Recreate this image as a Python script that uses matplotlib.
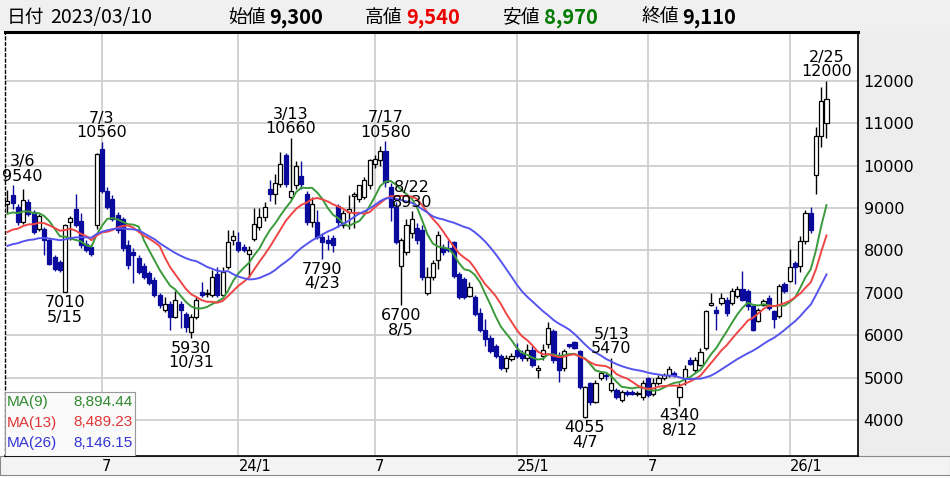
import numpy as np
import pandas as pd
import matplotlib.pyplot as plt
from matplotlib.patches import Rectangle

# weekly candles, the first one is the week ending 2023/03/03
opens = [9090, 9300, 9020, 8670, 9140, 8900, 8510, 8510, 8240, 7840,
         7730, 7020, 8680, 8980, 8700, 8160, 8080, 8590, 10390, 9410,
         9220, 8830, 8750, 8125, 7960, 7810, 7620, 7460, 7300, 6940,
         6590, 6745, 6430, 6745, 6510, 6080, 6430, 7020, 6960, 6940,
         7450, 6940, 7610, 8240, 8200, 8080, 7920, 8270, 8550, 8780,
         9450, 9330, 9570, 10240, 9260, 9530, 9760, 9340, 8670, 8670,
         8320, 8250, 8280, 9040, 8600, 8900, 9290, 9220, 9260, 9530,
         10040, 10120, 10350, 9490, 9020, 7620, 7970, 8400, 8520, 8480,
         6990, 7380, 7770, 8090, 8050, 8200, 7440, 7330, 6930, 6890,
         6530, 6130, 5940, 5740, 5500, 5220, 5440, 5660, 5580, 5460,
         5660, 5180, 5500, 5780, 6100, 5500, 5220, 5780, 5830, 5620,
         4070, 4860, 4430, 5000, 5060, 4700, 4700, 4480, 4660, 4650,
         4620, 4540, 4980, 4620, 4860, 4980, 5060, 5100, 4540, 4980,
         5410, 5170, 5300, 5690, 6720, 6600, 6760, 6840, 6760, 6920,
         7080, 7040, 6680, 6330, 6720, 6880, 6560, 6440, 7200, 7280,
         7710, 7640, 8230, 8870, 9770, 10700, 11000]
highs = [9420, 9540, 9100, 9450, 9200, 8950, 8850, 8560, 8280, 7900,
         7780, 8620, 8820, 9330, 8880, 8250, 8150, 10300, 10560, 9500,
         9300, 8900, 8780, 8250, 8050, 7880, 7700, 7520, 7370, 7000,
         6900, 6800, 7050, 6800, 6550, 6500, 6900, 7250, 7100, 7530,
         7600, 7600, 8470, 8470, 8440, 8150, 8100, 9000, 9000, 9140,
         9650, 9800, 10310, 10300, 10660, 10100, 10100, 9400, 9260, 8950,
         8400, 8370, 8360, 9100, 8950, 9300, 9380, 9550, 9720, 10150,
         10250, 10450, 10580, 9600, 9150, 8300, 8750, 8930, 8650, 8600,
         7600, 7780, 8450, 8150, 8250, 8230, 7500, 7380, 7250, 6950,
         6650, 6370, 6000, 5800, 5550, 5530, 5580, 5820, 5650, 5780,
         5750, 5300, 5780, 6300, 6150, 5600, 5680, 5800, 5860, 5650,
         4800, 4900, 4950, 5150, 5100, 5470, 4750, 4700, 4700, 4700,
         4680, 4950, 5020, 4980, 5050, 5100, 5280, 5150, 4860, 5300,
         5480, 5480, 5690, 6600, 7000, 6680, 7000, 6900, 7120, 7150,
         7520, 7080, 6700, 6650, 6850, 6950, 6600, 7200, 7250, 8030,
         7750, 8350, 8950, 9030, 10900, 11850, 12000]
lows = [8870, 8970, 8600, 8620, 8800, 8380, 8450, 7900, 7650, 7520,
        7480, 7010, 8240, 8550, 8050, 7950, 7870, 8500, 9350, 8980,
        8700, 8400, 7990, 7550, 7230, 7450, 7330, 7180, 6900, 6650,
        6550, 6120, 6400, 6170, 6080, 5930, 6380, 6900, 6900, 6900,
        6900, 6900, 7550, 8120, 7950, 7970, 7370, 8230, 8470, 8700,
        9160, 9090, 9500, 9500, 9200, 9450, 9450, 8600, 8550, 8270,
        7790, 8000, 7950, 8550, 8520, 8500, 8520, 9150, 9200, 9450,
        9950, 10000, 9500, 8700, 8150, 6700, 7900, 8300, 8150, 7300,
        6950, 7300, 7550, 7900, 7950, 7350, 6850, 6850, 6890, 6450,
        6080, 5750, 5580, 5450, 5180, 5140, 5380, 5450, 5380, 5380,
        5250, 4980, 5420, 5700, 5350, 4900, 5150, 5700, 5680, 4720,
        4055, 4350, 4400, 4950, 4950, 4650, 4500, 4430, 4560, 4580,
        4560, 4480, 4540, 4560, 4820, 4950, 5020, 5020, 4340, 4830,
        5300, 5130, 5270, 5650, 6680, 6130, 6700, 6450, 6700, 6880,
        6800, 6600, 6100, 6300, 6680, 6600, 6170, 6400, 7000, 7250,
        7200, 7500, 8150, 8400, 9340, 10430, 10640]
closes = [9170, 9110, 8670, 9180, 8860, 8430, 8820, 8240, 7690, 7570,
          7530, 8590, 8760, 8590, 8120, 8000, 7920, 10270, 9410, 9020,
          8750, 8480, 8050, 7660, 7900, 7500, 7380, 7230, 6950, 6700,
          6745, 6430, 6820, 6590, 6200, 6430, 6820, 6940, 7000, 7370,
          6940, 7490, 8200, 8350, 8000, 8000, 8000, 8630, 8790, 9020,
          9330, 9600, 10040, 9570, 9410, 10000, 9570, 8670, 9100, 8320,
          8200, 8170, 8130, 8670, 8870, 8980, 9330, 9530, 9650, 10120,
          10150, 10350, 9610, 9020, 8200, 8240, 8590, 8730, 8240, 7380,
          7380, 7700, 8360, 7970, 8000, 7400, 6890, 6890, 7130, 6490,
          6130, 5900, 5620, 5500, 5220, 5460, 5500, 5500, 5450, 5660,
          5300, 5230, 5660, 6180, 5420, 5180, 5620, 5740, 5700, 4780,
          4780, 4430, 4860, 5100, 5030, 4870, 4540, 4650, 4600, 4620,
          4640, 4860, 4580, 4860, 4980, 5060, 5210, 5060, 4780, 5210,
          5330, 5410, 5610, 6560, 6760, 6520, 6880, 6520, 7040, 7080,
          6840, 6680, 6130, 6600, 6800, 6640, 6370, 7160, 7040, 7600,
          7600, 8230, 8870, 8470, 10700, 11520, 11570]

# header shows the week ending 2023/03/10 (candle 1)
header_date = '2023/03/10'
header_idx = 1

# moving averages, values on the header date come from the legend box
ma_periods = [9, 13, 26]
ma_start = [8894.44, 8489.23, 8146.15]

# labelled highs and lows: (candle index, date text)
marks_high = [(1, '3/6'), (18, '7/3'), (54, '3/13'), (72, '7/17'),
              (77, '8/22'), (115, '5/13'), (156, '2/25')]
marks_low = [(11, '5/15'), (35, '10/31'), (60, '4/23'), (75, '8/5'),
             (110, '4/7'), (128, '8/12')]

tick_pos = [18, 44, 70, 97, 122, 149]
tick_labels = ['7', '24/1', '7', '25/1', '7', '26/1']
price_ticks = [4000, 5000, 6000, 7000, 8000, 9000, 10000, 11000, 12000]

# ---- styles
W, H = 950, 478
down_col = '#0a0a9c'
ma_colors = ['#3b9a3b', '#f04545', '#5555ee']
ma_text_colors = ['#2f8a2f', '#e03535', '#3535d5']
cjk = ['Noto Sans CJK JP', 'DejaVu Sans']


def fx(px):
    return px / W


def fy(py):
    return 1 - py / H


o = np.array(opens, float)
hi = np.array(highs, float)
lo = np.array(lows, float)
c = np.array(closes, float)
idx = np.arange(len(c))


def moving_avg(n, start_val):
    # weeks before the first candle are off the chart; fill them so the
    # average on the header date equals the legend value
    pad = (n * start_val - c[0] - c[1]) / (n - 2)
    s = pd.Series(np.r_[np.full(n - 1, pad), c])
    return s.rolling(n).mean().to_numpy()[n - 1:]


fig = plt.figure(figsize=(W / 100, H / 100), dpi=100)
fig.patch.set_facecolor('white')

# header strip, right price panel, bottom date strip (behind the axes)
fig.patches.append(Rectangle((0, fy(31)), 1, 31 / H, transform=fig.transFigure,
                             facecolor='#f0f0f0', edgecolor='none', zorder=-2))
fig.patches.append(Rectangle((fx(858), fy(456)), 1 - fx(858), (456 - 31) / H,
                             transform=fig.transFigure, facecolor='#ededed',
                             edgecolor='none', zorder=-2))
fig.patches.append(Rectangle((0, fy(475)), 1, (475 - 456) / H, transform=fig.transFigure,
                             facecolor='#f3f3f3', edgecolor='#888888', lw=0.8, zorder=-2))

ax = fig.add_axes([fx(5), fy(456), (858 - 5) / W, (456 - 32) / H])
ax.set_facecolor('white')

# wicks
up = c >= o
ax.vlines(idx[up], lo[up], hi[up], color='black', lw=1.0, zorder=3)
ax.vlines(idx[~up], lo[~up], hi[~up], color=down_col, lw=1.0, zorder=3)
# bodies
body_bottom = np.minimum(o, c)
body_h = np.maximum(np.abs(c - o), 25)
ax.bar(idx[up], body_h[up], bottom=body_bottom[up], width=0.78,
       facecolor='white', edgecolor='black', lw=0.9, zorder=4)
ax.bar(idx[~up], body_h[~up], bottom=body_bottom[~up], width=0.78,
       facecolor=down_col, edgecolor=down_col, lw=0.9, zorder=4)

for n, m0, col in zip(ma_periods, ma_start, ma_colors):
    ax.plot(idx, moving_avg(n, m0), color=col, lw=1.4, zorder=5)

# high / low labels
nudge = {1: 7}
for i, d in marks_high:
    ax.annotate(f'{d}\n{int(hi[i])}', (i, hi[i]), xytext=(nudge.get(i, 0), 1),
                textcoords='offset points', ha='center', va='bottom',
                fontsize=11.5, linespacing=0.95, zorder=6)
for i, d in marks_low:
    ax.annotate(f'{int(lo[i])}\n{d}', (i, lo[i]), xytext=(nudge.get(i, 0), -2),
                textcoords='offset points', ha='center', va='top',
                fontsize=11.5, linespacing=0.95, zorder=6)

ax.set_xlim(-0.46, 162.0)
ax.set_ylim(3149, 13151)
ax.set_xticks(tick_pos)
ax.set_xticklabels(tick_labels, ha='left', fontsize=10.5)
ax.set_yticks(price_ticks)
ax.set_yticklabels([str(v) for v in price_ticks], fontsize=11.5)
ax.yaxis.tick_right()
ax.tick_params(axis='both', length=0)
ax.tick_params(axis='y', pad=4)
ax.tick_params(axis='x', pad=2)
ax.grid(color='#cfcfcf', lw=1.3, zorder=0)
ax.set_axisbelow(True)
for side in ['right', 'bottom']:
    ax.spines[side].set_color('black')
    ax.spines[side].set_linewidth(1.2)
ax.spines['top'].set_linewidth(2.2)
ax.spines['left'].set_linestyle((0, (2, 2)))
ax.spines['left'].set_linewidth(1.0)

# MA legend box in the lower left corner
ax.add_patch(Rectangle((0, 0), 130 / 853, 64 / 424, transform=ax.transAxes,
                       facecolor='#fafafa', edgecolor='#999999', lw=0.8, zorder=7))
for k, (n, m0, col) in enumerate(zip(ma_periods, ma_start, ma_text_colors)):
    yy = (456 - (402 + 20.5 * k)) / 424
    ax.text(2 / 853, yy, f'MA({n})', transform=ax.transAxes, color=col,
            fontsize=11, family='Liberation Sans', va='center', ha='left', zorder=8)
    ax.text(128 / 853, yy, f'{m0:,.2f}', transform=ax.transAxes, color=col,
            fontsize=11, family='Liberation Sans', va='center', ha='right', zorder=8)

# header texts
ty = fy(17)
fig.text(fx(7), ty, '日付', family=cjk, fontsize=13.5, va='center')
fig.text(fx(50), ty, header_date, family=cjk, fontsize=14, va='center')
heads = [('始値', opens, 228, 'black'), ('高値', highs, 365, '#ee0000'),
         ('安値', lows, 503, '#007a00'), ('終値', closes, 641, 'black')]
for name, arr, px, col in heads:
    fig.text(fx(px), ty, name, family=cjk, fontsize=13.5, va='center')
    fig.text(fx(px + 41), ty, f'{arr[header_idx]:,}', family=cjk, fontsize=14.5,
             fontweight='bold', color=col, va='center')

fig.savefig('out.png', dpi=100)
